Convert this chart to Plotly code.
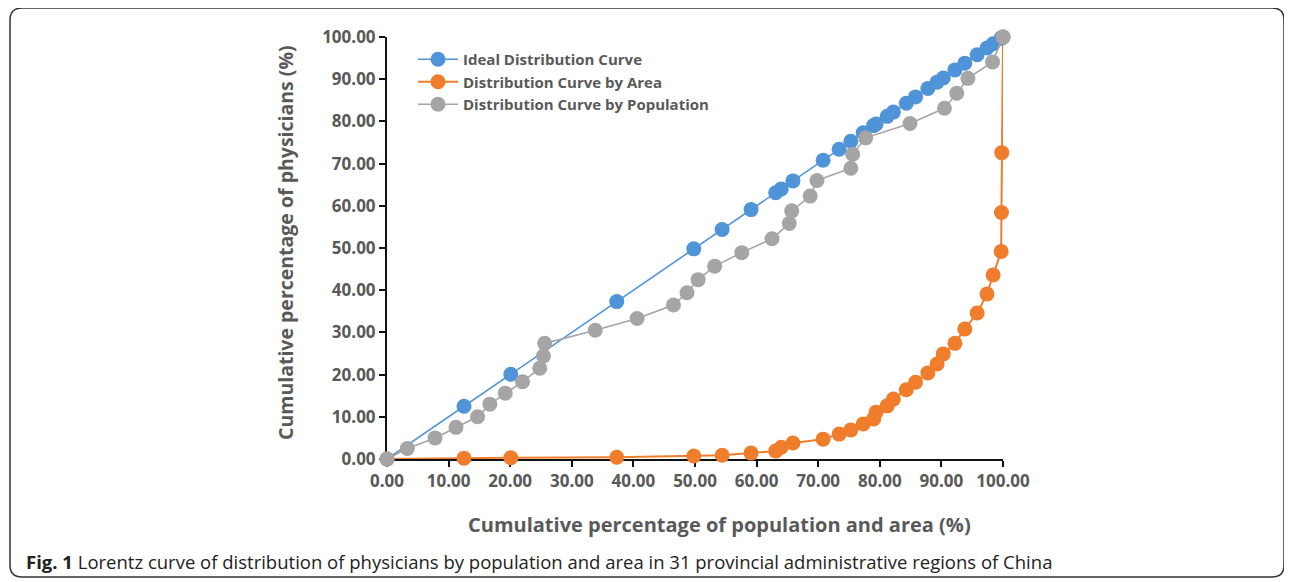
import plotly.graph_objects as go

# Cumulative percentage of area (x for ideal & area curves)
area_x = [0, 12.5, 20.1, 37.3, 49.8, 54.4, 59.1, 63.1, 64.0, 65.9, 70.8, 73.4, 75.3, 77.3, 79.0, 79.4,
          81.2, 82.2, 84.3, 85.8, 87.8, 89.3, 90.3, 92.2, 93.8, 95.8, 97.4, 98.4, 99.7, 99.75, 99.8, 100]
# Ideal curve: y equals x
ideal_y = list(area_x)
# Cumulative physicians by area
area_y = [0, 0.2, 0.3, 0.4, 0.7, 0.9, 1.4, 1.9, 2.8, 3.8, 4.7, 5.9, 6.9, 8.3, 9.5, 11.1,
          12.6, 14.2, 16.4, 18.2, 20.4, 22.5, 24.9, 27.4, 30.8, 34.6, 39.1, 43.6, 49.2, 58.4, 72.6, 100]
# Cumulative population vs physicians
pop_x = [0, 3.3, 7.8, 11.2, 14.7, 16.7, 19.2, 22.0, 24.8, 25.4, 25.6, 33.8, 40.6, 46.5, 48.7, 50.5,
         53.2, 57.6, 62.5, 65.3, 65.7, 68.7, 69.8, 75.3, 75.6, 77.7, 84.9, 90.5, 92.5, 94.3, 98.3, 100]
pop_y = [0, 2.5, 5.0, 7.5, 10.0, 13.0, 15.6, 18.3, 21.5, 24.4, 27.4, 30.5, 33.3, 36.5, 39.4, 42.5,
         45.7, 48.9, 52.2, 55.8, 58.8, 62.3, 66.0, 68.9, 72.2, 76.1, 79.5, 83.1, 86.7, 90.2, 94.1, 100]

tick_vals = [0, 10, 20, 30, 40, 50, 60, 70, 80, 90, 100]
tick_text = ["0.00", "10.00", "20.00", "30.00", "40.00", "50.00", "60.00", "70.00", "80.00", "90.00", "100.00"]

names = ["Ideal Distribution Curve", "Distribution Curve by Area", "Distribution Curve by Population"]
colors = ["#4F93D8", "#EF7D2C", "#A5A5A5"]

FONT = "Open Sans"
TXT = "#595959"

fig = go.Figure()
for xs, ys, name, col, lw in [(area_x, ideal_y, names[0], colors[0], 1.6),
                              (area_x, area_y, names[1], colors[1], 2.0),
                              (pop_x, pop_y, names[2], colors[2], 1.6)]:
    fig.add_trace(go.Scatter(x=xs, y=ys, name=name, mode="lines+markers",
                             line=dict(color=col, width=lw),
                             marker=dict(color=col, size=15, line=dict(width=0)),
                             cliponaxis=False))

OFF = 8  # page body margin
W, H = 1292 - OFF, 582 - OFF
L, R, T, B = 387 - OFF, 1003 - OFF, 37 - OFF, 459 - OFF
pw, ph = R - L, B - T

def px(x):
    return (x - OFF - L) / pw

def py(y):
    return (B - (y - OFF)) / ph

# rounded border (screen coords)
x0, x1, y0, y1 = px(10), px(1284), py(577), py(8)
rx, ry = 12 / pw, 12 / ph
path = (f"M {x0+rx} {y1} L {x1-rx} {y1} Q {x1} {y1} {x1} {y1-ry} L {x1} {y0+ry} "
        f"Q {x1} {y0} {x1-rx} {y0} L {x0+rx} {y0} Q {x0} {y0} {x0} {y0+ry} "
        f"L {x0} {y1-ry} Q {x0} {y1} {x0+rx} {y1} Z")

fig.update_layout(
    width=W, height=H,
    margin=dict(l=L, r=W - R, t=T, b=H - B),
    paper_bgcolor="white", plot_bgcolor="white",
    font=dict(family=FONT, color=TXT),
    showlegend=True,
    legend=dict(x=px(413), y=py(43), xanchor="left", yanchor="top",
                font=dict(family=FONT, size=15, color=TXT, weight="bold"),
                bgcolor="rgba(0,0,0,0)", itemwidth=40, tracegroupgap=0),
    shapes=[dict(type="path", path=path, xref="paper", yref="paper",
                 line=dict(color="#333333", width=1.5), layer="below")],
    annotations=[
        dict(text="Cumulative percentage of population and area (%)", x=px(719), y=py(524),
             xref="paper", yref="paper", xanchor="center", yanchor="middle", showarrow=False,
             font=dict(family=FONT, size=20, color=TXT, weight="bold")),
        dict(text="Cumulative percentage of physicians (%)", x=px(285), y=py(243),
             xref="paper", yref="paper", xanchor="center", yanchor="middle", showarrow=False,
             textangle=-90,
             font=dict(family=FONT, size=19.5, color=TXT, weight="bold")),
        dict(text="<b>Fig. 1</b> Lorentz curve of distribution of physicians by population and area in 31 provincial administrative regions of China",
             x=px(24), y=py(561), xref="paper", yref="paper", xanchor="left", yanchor="middle",
             showarrow=False, font=dict(family=FONT, size=18.5, color="#222222")),
    ],
)

axis_common = dict(range=[0, 100], showgrid=False, zeroline=False, showline=True,
                   linecolor="#111111", linewidth=2, ticks="outside", ticklen=6,
                   tickwidth=1.5, tickcolor="#111111", tickvals=tick_vals, ticktext=tick_text,
                   tickfont=dict(family=FONT, size=17, color=TXT, weight="bold"),
                   layer="below traces", fixedrange=True)
fig.update_xaxes(**axis_common)
fig.update_yaxes(**axis_common)

fig.write_html("out.html")
